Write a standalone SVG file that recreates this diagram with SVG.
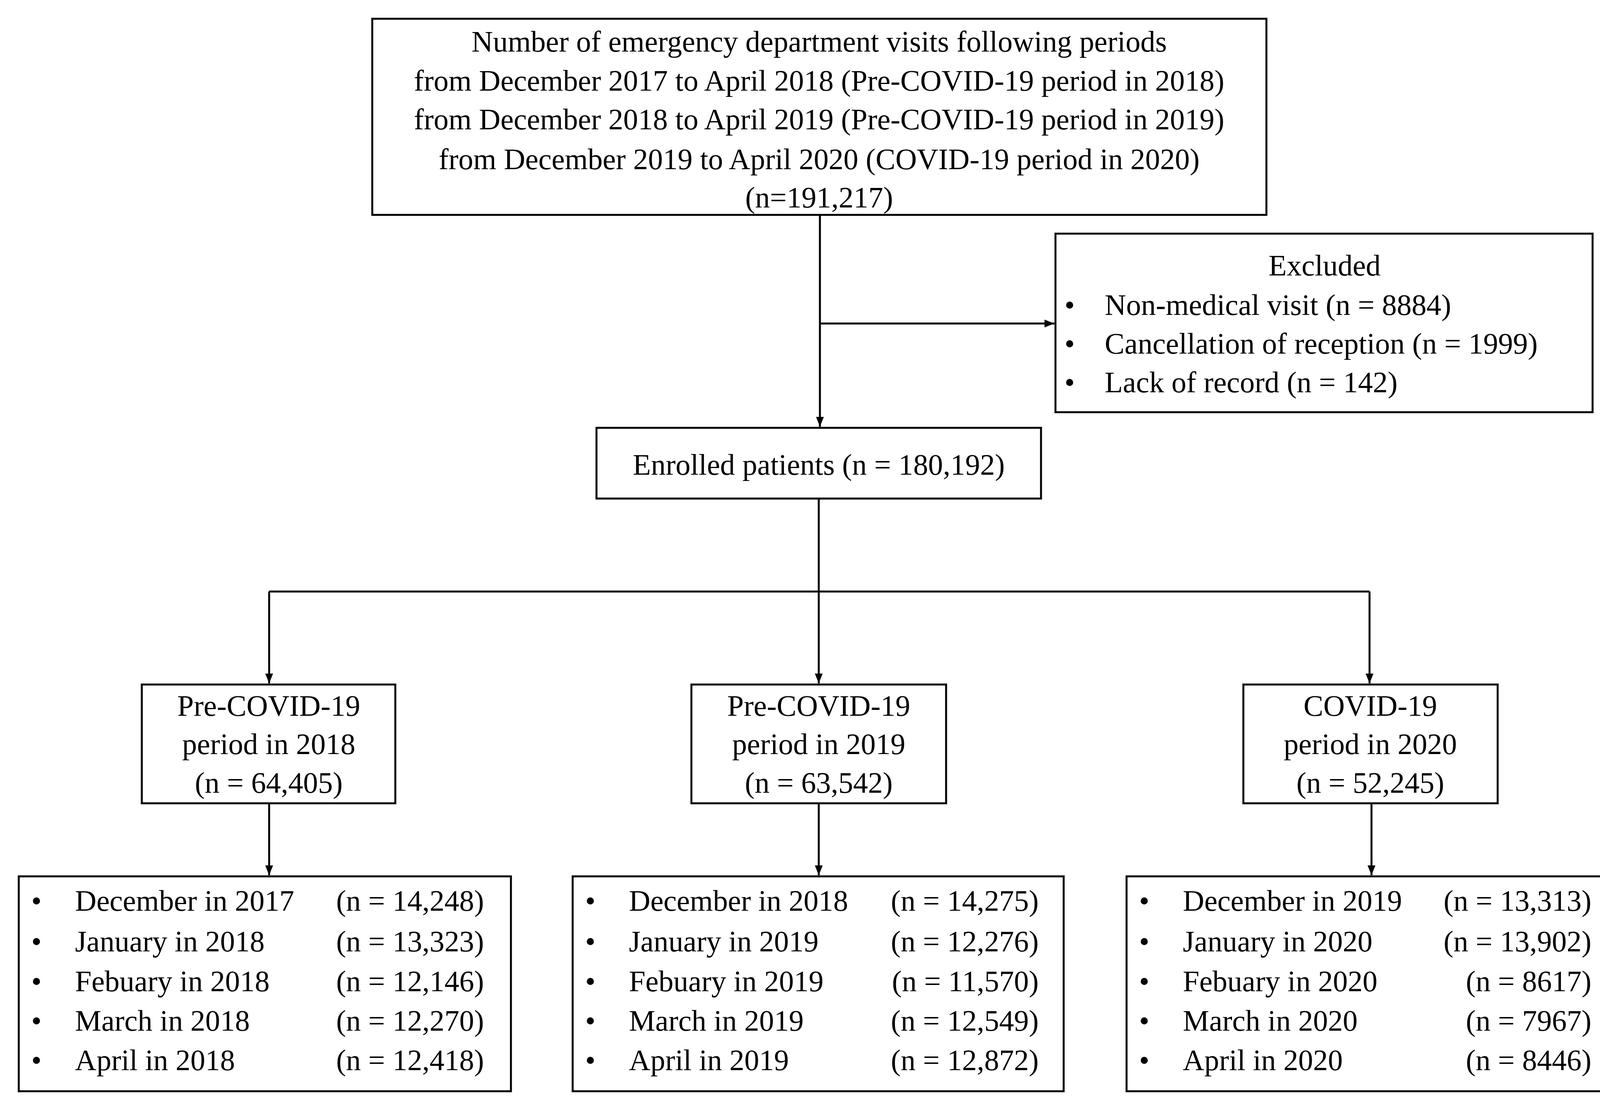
<svg xmlns="http://www.w3.org/2000/svg" width="4187" height="2841" viewBox="0 0 4187 2841">
<style>
text{font-family:"Liberation Serif","Times New Roman",serif;font-size:76px;fill:#000}
.c{text-anchor:middle}.e{text-anchor:end}
rect{fill:#fff;stroke:#000;stroke-width:5}
line{stroke:#000;stroke-width:5}
</style>
<defs><marker id="a" viewBox="0 0 10 10" refX="10" refY="5" markerWidth="5" markerHeight="5" orient="auto"><path d="M0,1L10,5L0,9z" fill="#000"/></marker></defs>
<rect width="4187" height="2841" style="stroke:none"/>
<g id="connectors">
<line x1="2099" y1="550" x2="2099" y2="1092" marker-end="url(#a)"/>
<line x1="2099" y1="828" x2="2699" y2="828" marker-end="url(#a)"/>
<line x1="2096" y1="1276" x2="2096" y2="1514"/>
<line x1="689" y1="1514" x2="3506" y2="1514"/>
<line x1="2096" y1="1514" x2="2096" y2="1749" marker-end="url(#a)"/>
<line x1="689" y1="1514" x2="689" y2="1749" marker-end="url(#a)"/>
<line x1="3506" y1="1514" x2="3506" y2="1749" marker-end="url(#a)"/>
<line x1="689" y1="2056" x2="689" y2="2240" marker-end="url(#a)"/>
<line x1="2096" y1="2056" x2="2096" y2="2240" marker-end="url(#a)"/>
<line x1="3511" y1="2056" x2="3511" y2="2240" marker-end="url(#a)"/>
</g>
<g id="top"><rect x="953" y="48" width="2289" height="502"/>
<text class="c" x="2097" y="132">Number of emergency department visits following periods</text>
<text class="c" x="2097" y="232">from December 2017 to April 2018 (Pre-COVID-19 period in 2018)</text>
<text class="c" x="2097" y="331">from December 2018 to April 2019 (Pre-COVID-19 period in 2019)</text>
<text class="c" x="2097" y="433">from December 2019 to April 2020 (COVID-19 period in 2020)</text>
<text class="c" x="2097" y="531">(n=191,217)</text></g>
<g id="excluded"><rect x="2702" y="598" width="1375" height="457"/>
<text class="c" x="3391" y="705">Excluded</text>
<text x="2725" y="806">•</text><text x="2828" y="806">Non-medical visit (n = 8884)</text>
<text x="2725" y="905">•</text><text x="2828" y="905">Cancellation of reception (n = 1999)</text>
<text x="2725" y="1004">•</text><text x="2828" y="1004">Lack of record (n = 142)</text></g>
<g id="enrolled"><rect x="1527" y="1095" width="1138" height="181"/>
<text class="c" x="2096" y="1215">Enrolled patients (n = 180,192)</text></g>
<g id="p2018"><rect x="363" y="1752" width="649" height="304"/>
<text class="c" x="688" y="1832">Pre-COVID-19</text><text class="c" x="688" y="1930">period in 2018</text><text class="c" x="688" y="2029">(n = 64,405)</text></g>
<g id="p2019"><rect x="1770" y="1752" width="652" height="304"/>
<text class="c" x="2096" y="1832">Pre-COVID-19</text><text class="c" x="2096" y="1930">period in 2019</text><text class="c" x="2096" y="2029">(n = 63,542)</text></g>
<g id="p2020"><rect x="3183" y="1752" width="651" height="304"/>
<text class="c" x="3508" y="1832">COVID-19</text><text class="c" x="3508" y="1930">period in 2020</text><text class="c" x="3508" y="2029">(n = 52,245)</text></g>
<g id="m2018"><rect x="48" y="2243" width="1260" height="550"/>
<text x="80" y="2331">•</text><text x="192" y="2331">December in 2017</text><text class="e" x="1239" y="2331">(n = 14,248)</text>
<text x="80" y="2435">•</text><text x="192" y="2435">January in 2018</text><text class="e" x="1239" y="2435">(n = 13,323)</text>
<text x="80" y="2537">•</text><text x="192" y="2537">Febuary in 2018</text><text class="e" x="1239" y="2537">(n = 12,146)</text>
<text x="80" y="2638">•</text><text x="192" y="2638">March in 2018</text><text class="e" x="1239" y="2638">(n = 12,270)</text>
<text x="80" y="2739">•</text><text x="192" y="2739">April in 2018</text><text class="e" x="1239" y="2739">(n = 12,418)</text></g>
<g id="m2019"><rect x="1466" y="2243" width="1257" height="550"/>
<text x="1498" y="2331">•</text><text x="1610" y="2331">December in 2018</text><text class="e" x="2659" y="2331">(n = 14,275)</text>
<text x="1498" y="2435">•</text><text x="1610" y="2435">January in 2019</text><text class="e" x="2659" y="2435">(n = 12,276)</text>
<text x="1498" y="2537">•</text><text x="1610" y="2537">Febuary in 2019</text><text class="e" x="2659" y="2537">(n = 11,570)</text>
<text x="1498" y="2638">•</text><text x="1610" y="2638">March in 2019</text><text class="e" x="2659" y="2638">(n = 12,549)</text>
<text x="1498" y="2739">•</text><text x="1610" y="2739">April in 2019</text><text class="e" x="2659" y="2739">(n = 12,872)</text></g>
<g id="m2020"><rect x="2884" y="2243" width="1257" height="550"/>
<text x="2916" y="2331">•</text><text x="3028" y="2331">December in 2019</text><text class="e" x="4074" y="2331">(n = 13,313)</text>
<text x="2916" y="2435">•</text><text x="3028" y="2435">January in 2020</text><text class="e" x="4074" y="2435">(n = 13,902)</text>
<text x="2916" y="2537">•</text><text x="3028" y="2537">Febuary in 2020</text><text class="e" x="4074" y="2537">(n = 8617)</text>
<text x="2916" y="2638">•</text><text x="3028" y="2638">March in 2020</text><text class="e" x="4074" y="2638">(n = 7967)</text>
<text x="2916" y="2739">•</text><text x="3028" y="2739">April in 2020</text><text class="e" x="4074" y="2739">(n = 8446)</text></g>
</svg>
